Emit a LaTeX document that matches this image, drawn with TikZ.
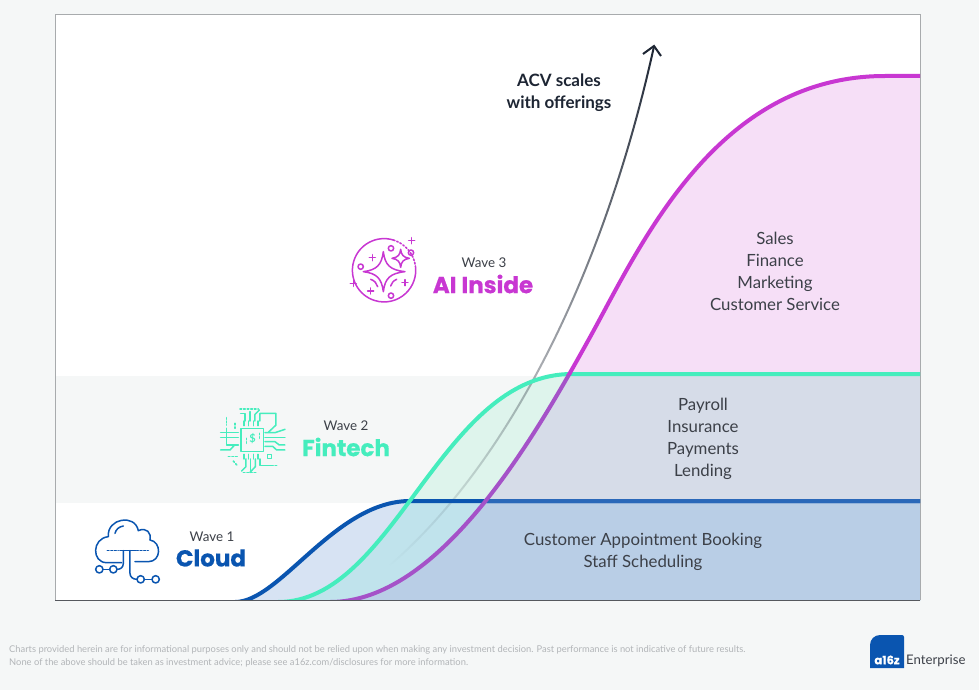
\documentclass[tikz,border=0pt]{standalone}
\usepackage{fontspec}
\setmainfont{Lato}
\newfontfamily\headfont[BoldFeatures={FakeBold=0.6}]{Poppins}
\usetikzlibrary{fadings}
\definecolor{pagebg}{HTML}{F5F7F7}
\definecolor{framec}{HTML}{A8ABAD}
\definecolor{basec}{HTML}{55585E}
\definecolor{magc}{HTML}{C837D2}
\definecolor{magdim}{HTML}{A552C8}
\definecolor{tealc}{HTML}{45EDBD}
\definecolor{bluec}{HTML}{0A55B0}
\definecolor{bluedim}{HTML}{2A68B9}
\definecolor{inkc}{HTML}{1D2533}
\definecolor{textc}{HTML}{3C4048}
\definecolor{footc}{HTML}{B2B5B8}
\definecolor{fillblue}{RGB}{215,227,243}
\definecolor{fillbluegreen}{RGB}{192,227,236}
\definecolor{fillgreen}{RGB}{222,244,236}
\definecolor{fillpink}{RGB}{246,223,247}
\definecolor{fillmid}{RGB}{214,220,232}
\definecolor{filllow}{RGB}{185,206,230}
\tikzfading[name=arrowfade,bottom color=transparent!100,top color=transparent!0]
\tikzset{
  body/.style={font=\fontsize{16.8}{22}\selectfont,text=textc,align=center,inner sep=0},
  wavelab/.style={font=\fontsize{13.4}{15}\selectfont,text=textc,inner sep=0},
  wavehead/.style={font=\headfont\bfseries\fontsize{23}{24}\selectfont,inner sep=0},
  foot/.style={font=\fontsize{9.35}{13}\selectfont,text=footc,align=left,inner sep=0,anchor=north west},
  icon/.style={line width=1.5pt,line cap=round,line join=round},
  dotsline/.style={dotted,line width=1.6pt},
  curve/.style={line width=4pt}
}
\def\bluecurve{(235,602) .. controls (280,602) and (335,501) .. (410,501) -- (920,501)}
\def\greencurve{(278,602) .. controls (395,602) and (440,374) .. (572,374) -- (920,374)}
\def\purplecurve{(330,602) .. controls (440,602) and (534,438) .. (589,339) .. controls (640,247) and (715,76) .. (885,76) -- (920,76)}
\begin{document}
\begin{tikzpicture}[x=1pt,y=-1pt]
\useasboundingbox (0,0) rectangle (979,690);
\fill[pagebg] (0,0) rectangle (979,690);
\fill[white] (55,14) rectangle (920,376);
\fill[white] (55,503) rectangle (920,600);
% area fills
\begin{scope}
 \clip (55,14) rectangle (920,600);
 \fill[fillblue] \bluecurve -- (920,602) -- cycle;
 \begin{scope}
  \clip (55,501) rectangle (920,600);
  \fill[fillbluegreen] \greencurve -- (920,602) -- cycle;
 \end{scope}
 \begin{scope}
  \clip (55,300) rectangle (920,501);
  \fill[fillgreen] \greencurve -- (920,602) -- cycle;
 \end{scope}
 \begin{scope}
  \clip (55,14) rectangle (920,374);
  \fill[fillpink] \purplecurve -- (920,602) -- cycle;
 \end{scope}
 \begin{scope}
  \clip (55,374) rectangle (920,501);
  \fill[fillmid] \purplecurve -- (920,602) -- cycle;
 \end{scope}
 \begin{scope}
  \clip (55,501) rectangle (920,600);
  \fill[filllow] \purplecurve -- (920,602) -- cycle;
 \end{scope}
\end{scope}
% frame
\draw[framec,line width=0.7pt] (55,600) -- (55,14) -- (920,14) -- (920,600);
% arrow
\coordinate (arrowstart) at (390,565);
\coordinate (arrowtip) at (654,46);
\coordinate (barbl) at (643,54);
\coordinate (barbr) at (661,56);
\draw[inkc,line width=2pt,path fading=arrowfade] (arrowstart) .. controls (500,470) and (600,290) .. (arrowtip);
\draw[inkc,line width=2pt,line join=miter] (barbl) -- (arrowtip) -- (barbr);
% curves
\begin{scope}
 \clip (55,14) rectangle (920,600);
 \draw[bluec,curve] \bluecurve;
 \begin{scope}
  \clip (487,480) rectangle (921,520);
  \draw[bluedim,curve] \bluecurve;
 \end{scope}
 \draw[tealc,curve] \greencurve;
 \begin{scope}
  \clip (0,374) rectangle (979,600);
  \draw[magdim,curve] \purplecurve;
 \end{scope}
 \begin{scope}
  \clip (0,0) rectangle (979,374);
  \draw[magc,curve] \purplecurve;
 \end{scope}
\end{scope}
\draw[basec,line width=1.4pt] (55,600.5) -- (920,600.5);
% texts
\node[inkc,font=\bfseries\fontsize{17}{22}\selectfont,align=center,inner sep=0] (acv) at (559,93) {ACV scales\\with offerings};
\node[body] (sales) at (775,271) {Sales\\Finance\\Marketing\\Customer Service};
\node[body] (payroll) at (703,439) {Payroll\\Insurance\\Payments\\Lending};
\node[body] (booking) at (643,552) {Customer Appointment Booking\\Staff Scheduling};
\node[wavelab] (w3) at (484,263) {Wave 3};
\node[wavehead,text=magc] (ai) at (483,284) {AI Inside};
\node[wavelab] (w2) at (346,426) {Wave 2};
\node[wavehead,text=tealc] (fin) at (346,447) {Fintech};
\node[wavelab] (w1) at (212,537) {Wave 1};
\node[wavehead,text=bluec] (cl) at (211,558) {Cloud};
% sparkle icon
\begin{scope}[shift={(330,220)},x=0.3333pt,y=-0.3333pt,magc,icon]
 \draw (190,60) arc[start angle=-73,end angle=-368,radius=95];
 \draw[dotsline] (190,60) arc[start angle=-73,end angle=-8,radius=95];
 \draw (160,95) .. controls (165,135) and (180,150) .. (225,155) .. controls (180,160) and (165,175) .. (160,215) .. controls (155,175) and (140,160) .. (100,155) .. controls (140,150) and (155,135) .. (160,95) -- cycle;
 \draw (212,88) .. controls (214,105) and (220,112) .. (238,115) .. controls (220,118) and (214,125) .. (212,142) .. controls (210,125) and (204,118) .. (186,115) .. controls (204,112) and (210,105) .. (212,88) -- cycle;
 \draw (183,85) circle[radius=8];
 \draw (243,98) circle[radius=8];
 \draw (92,140) circle[radius=8];
 \draw (183,227) circle[radius=8];
 \foreach \px/\py in {245/62,127/113,70/190,122/213,225/188}{
  \draw (\px-9,\py) -- (\px+9,\py);
  \draw (\px,\py-9) -- (\px,\py+9);
 }
 \draw (122,178) .. controls (134,182) and (140,190) .. (143,200);
 \draw (200,178) .. controls (190,182) and (184,190) .. (182,198);
\end{scope}
% chip icon
\begin{scope}[shift={(200,395)},x=0.3333pt,y=-0.3333pt,tealc,icon]
 \draw (123,100) rectangle (190,170);
 \node[inner sep=0,font=\bfseries\fontsize{11}{11}\selectfont,text=tealc] (dollar) at (158,132) {\$};
 \foreach \q in {132,146,160,174}{
  \draw (\q,92) -- (\q,78);
  \draw (\q,178) -- (\q,192);
 }
 \draw (135,78) -- (135,55) -- (122,55);
 \draw (150,78) -- (150,50);
 \draw (165,78) -- (165,58) -- (178,45);
 \draw (180,78) -- (180,55) -- (228,55) -- (228,90) -- (205,112);
 \draw[dotsline] (120,42) -- (175,42);
 \draw[dotsline] (80,68) -- (80,90);
 \draw[dotsline] (105,85) -- (105,100);
 \draw (62,113) -- (115,113);
 \draw (62,127) -- (115,127);
 \draw (80,100) -- (80,150) -- (115,150);
 \draw (62,165) -- (90,165) -- (102,152);
 \draw (195,113) -- (225,113) -- (255,103);
 \draw (195,127) -- (255,127);
 \draw (195,140) -- (225,140) -- (238,150) -- (255,150);
 \draw (195,154) -- (218,154) -- (230,165) -- (255,165);
 \draw (138,192) -- (138,215) -- (125,228);
 \draw (152,192) -- (152,232);
 \draw (166,192) -- (166,215) -- (150,232);
 \draw (180,192) -- (180,212) -- (215,212);
 \draw (202,178) rectangle (215,190);
 \draw[dotsline] (85,185) -- (112,185);
 \draw[dotsline] (100,198) -- (112,212);
 \draw[dotsline] (130,232) -- (170,232);
 \draw[dotsline] (215,212) -- (230,212);
 \draw[dotted] (140,130) -- (140,150);
 \draw[dotted] (178,115) -- (178,135);
\end{scope}
% cloud icon
\begin{scope}[shift={(80,510)},x=0.3333pt,y=-0.3333pt,bluec,icon]
 \draw (125,158) -- (80,158) .. controls (35,158) and (35,85) .. (85,80) .. controls (80,25) and (165,10) .. (175,62) .. controls (200,50) and (215,70) .. (210,90) .. controls (245,95) and (245,155) .. (205,155) -- (165,155);
 \draw (105,70) .. controls (108,58) and (117,50) .. (130,48);
 \draw[dotsline] (82,122) -- (115,122);
 \draw[dotsline] (170,122) -- (205,122);
 \draw (120,122) -- (168,122);
 \draw (150,122) -- (150,190) .. controls (150,200) and (158,208) .. (171,208);
 \draw (130,122) -- (130,160) .. controls (130,172) and (122,178) .. (111,178);
 \draw (58,178) circle[radius=11];
 \draw (100,178) circle[radius=11];
 \draw (69,178) -- (89,178);
 \draw (182,208) circle[radius=11];
 \draw (227,208) circle[radius=11];
 \draw (193,208) -- (216,208);
\end{scope}
% footer
\node[foot] (note) at (9,645.5) {Charts provided herein are for informational purposes only and should not be relied upon when making any investment decision. Past performance is not indicative of future results.\\None of the above should be taken as investment advice; please see a16z.com/disclosures for more information.};
% logo
\fill[bluec] (870,668) -- (870,645) arc[start angle=180,end angle=270,radius=10] -- (902,635) arc[start angle=270,end angle=360,radius=2] -- (904,668) -- cycle;
\node[text=white,font=\headfont\bfseries\fontsize{11.5}{12}\selectfont,inner sep=0] (a16z) at (887,660) {a16z};
\node[text=textc,font=\fontsize{13.2}{14}\selectfont,inner sep=0,anchor=west] (ent) at (906,660.5) {Enterprise};
\end{tikzpicture}
\end{document}
